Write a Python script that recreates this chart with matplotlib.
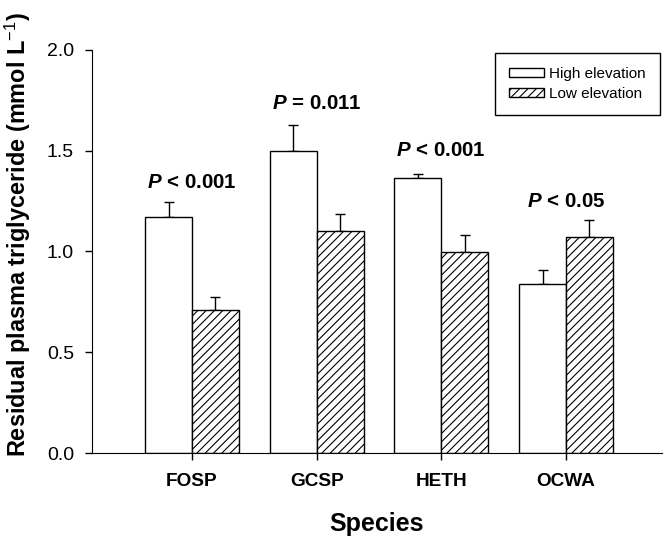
import numpy as np
import matplotlib
matplotlib.use("Agg")
import matplotlib.pyplot as plt

plt.rcParams['font.family'] = ['Liberation Sans', 'DejaVu Sans']
plt.rcParams['mathtext.fontset'] = 'custom'
plt.rcParams['mathtext.rm'] = 'Liberation Sans'
plt.rcParams['mathtext.bf'] = 'Liberation Sans:bold'
plt.rcParams['mathtext.bfit'] = 'Liberation Sans:italic:bold'
plt.rcParams['hatch.linewidth'] = 0.8

# data
species = ["FOSP", "GCSP", "HETH", "OCWA"]
high = [1.17, 1.50, 1.365, 0.84]
high_err = [0.077, 0.13, 0.022, 0.066]
low = [0.71, 1.10, 0.998, 1.07]
low_err = [0.062, 0.088, 0.085, 0.086]
p_labels = ["< 0.001", "= 0.011", "< 0.001", "< 0.05"]
p_ypos = [1.34, 1.735, 1.50, 1.25]

fig = plt.figure(figsize=(6.69, 5.45), dpi=100)
ax = fig.add_axes([0.1375, 0.1688, 0.852, 0.7395])

x = np.arange(len(species))
w = 0.376

ax.bar(x - w/2, high, w, color='white', edgecolor='black', linewidth=1.0,
       label='High elevation', zorder=2)
ax.bar(x + w/2, low, w, color='white', edgecolor='black', linewidth=1.0,
       hatch='////', label='Low elevation', zorder=2)

# upward-only error bars
ax.errorbar(x - w/2, high, yerr=[np.zeros(4), high_err], fmt='none',
            ecolor='black', elinewidth=1.0, capsize=3.6, capthick=1.0, zorder=1)
ax.errorbar(x + w/2, low, yerr=[np.zeros(4), low_err], fmt='none',
            ecolor='black', elinewidth=1.0, capsize=3.6, capthick=1.0, zorder=1)

for xi, lab, yp in zip(x, p_labels, p_ypos):
    ax.text(xi, yp, r'$\mathbfit{P}$ ' + lab, ha='center', va='center',
            fontsize=14.8, fontweight='bold')

ax.set_xlim(-0.802, 3.77)
ax.set_ylim(0, 2.0)
ax.set_yticks([0.0, 0.5, 1.0, 1.5, 2.0])
ax.set_yticklabels(["0.0", "0.5", "1.0", "1.5", "2.0"])
ax.set_xticks(x)
ax.set_xticklabels(species, fontweight='bold', fontsize=13.7)

ax.spines['top'].set_visible(False)
ax.spines['right'].set_visible(False)
ax.tick_params(axis='y', direction='out', length=5, width=1, labelsize=14, pad=8)
ax.tick_params(axis='x', direction='out', length=5, width=1, pad=9.5)

ax.set_xlabel("Species", fontsize=18, fontweight='bold', labelpad=16)
fig.text(0.027, 0.569, r'Residual plasma triglyceride (mmol L$^{-1}$)',
         rotation=90, ha='center', va='center', fontsize=16.9, fontweight='bold')

leg = ax.legend(loc='upper right', bbox_to_anchor=(0.9965, 0.993),
                borderaxespad=0, fontsize=11, fancybox=False,
                edgecolor='black', framealpha=1, handlelength=2.3,
                handleheight=0.52, borderpad=0.95, labelspacing=0.35,
                handletextpad=0.3)
leg.get_frame().set_linewidth(1.0)

fig.savefig("out.png", dpi=100)
